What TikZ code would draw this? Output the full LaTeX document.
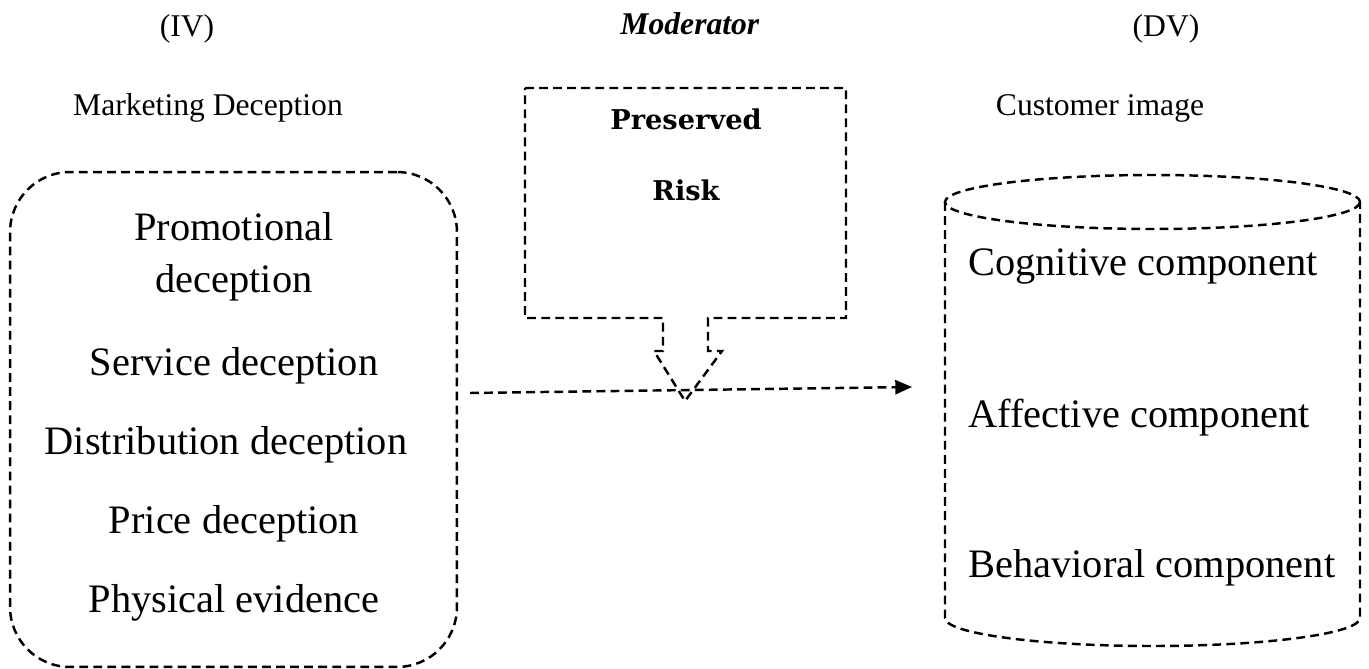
\documentclass[tikz,border=0pt]{standalone}
\usepackage{fontspec}
\setmainfont{Liberation Serif}
\newfontfamily\riskfont{DejaVu Serif}
\usetikzlibrary{positioning, arrows.meta, calc}
\tikzset{
  dashline/.style={line width=1.4pt, dash pattern=on 5pt off 3pt},
  bigtext/.style={font=\fontsize{23}{29.6}\selectfont, inner sep=0pt},
  headtext/.style={font=\fontsize{18}{22}\selectfont, inner sep=0pt},
  risktext/.style={font=\riskfont\bfseries\fontsize{15.5}{18}\selectfont, inner sep=0pt},
  linkarrow/.style={dashline, -{Triangle[length=9.5pt, width=8pt]}}
}

\begin{document}
\begin{tikzpicture}[x=0.02cm, y=-0.02cm]
  \useasboundingbox (0,0) rectangle (1369,669);
  % headings
  \node[headtext, anchor=base] (ivhead)  at (187,37)  {(IV)};
  \node[headtext, anchor=base] (modhead) at (690,35)  {\textbf{\textit{Moderator}}};
  \node[headtext, anchor=base] (dvhead)  at (1166,37) {(DV)};
  \node[headtext, anchor=base] (ivname)  at (208,115) {Marketing Deception};
  \node[headtext, anchor=base] (dvname)  at (1100,115) {Customer image};

  % independent variable box
  \node[draw, dashline, rounded corners=1.2cm, minimum width=8.94cm, minimum height=9.9cm] (ivbox) at (233.5,419.5) {};
  \node[bigtext, align=center] (promo) at (234,257) {Promotional\\deception};
  \node[bigtext, anchor=base] (serv)  at (234,375) {Service deception};
  \node[bigtext, anchor=base] (distr) at (226,454) {Distribution deception};
  \node[bigtext, anchor=base] (price) at (234,533) {Price deception};
  \node[bigtext, anchor=base] (phys)  at (234,612) {Physical evidence};

  % moderator callout
  \draw[dashline] (525,88) -- (846,88) -- (846,318) -- (708,318) -- (708,351) -- (722,351)
        -- (685,401) -- (654,351) -- (663,351) -- (663,318) -- (525,318) -- cycle;
  \node[risktext, anchor=base] (pres) at (686,130) {Preserved};
  \node[risktext, anchor=base] (risk) at (686,200) {Risk};

  % dependent variable cylinder
  \draw[dashline] (945,202) -- (945,618) arc[start angle=180, end angle=0, x radius=207.5, y radius=28] -- (1360,202);
  \draw[dashline] (1152.5,202) ellipse[x radius=207.5, y radius=27];
  \node[bigtext, anchor=base west] (cogn) at (968,275) {Cognitive component};
  \node[bigtext, anchor=base west] (affe) at (968,427) {Affective component};
  \node[bigtext, anchor=base west] (beha) at (968,577) {Behavioral component};

  % link
  \coordinate (ivout) at (470,393);
  \coordinate (dvin)  at (912,387);
  \draw[linkarrow] (ivout) -- (dvin);
\end{tikzpicture}
\end{document}
